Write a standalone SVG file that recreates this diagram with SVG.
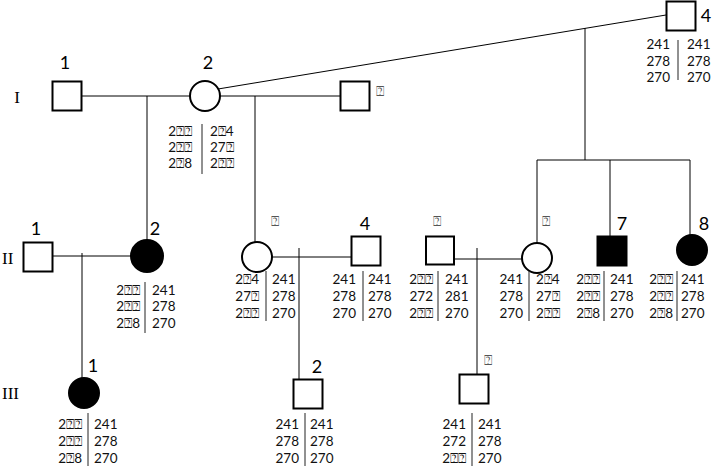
<svg xmlns="http://www.w3.org/2000/svg" width="716" height="468" viewBox="0 0 716 468">
<style>
.nd{fill:#fff;stroke:#000;stroke-width:2}
.af{fill:#000;stroke:#000;stroke-width:2}
.ln{stroke:#000;stroke-width:1;fill:none}
.dv{stroke:#222;stroke-width:1}
.g{font-family:Lato,"Liberation Sans",sans-serif;font-size:13.5px;fill:#111}
.l{text-anchor:end}
.lb{font-family:Lato,"Liberation Sans",sans-serif;font-size:18px;fill:#000}
.rm{font-family:"Liberation Serif",serif;font-size:17px;fill:#000}
.q{font-family:"DejaVu Sans",sans-serif;font-size:14px;fill:#555}
</style>
<rect width="716" height="468" fill="#fff"/>
<g id="generations">
<text class="rm" x="17" y="103" text-anchor="middle">I</text>
<text class="rm" x="2" y="264">II</text>
<text class="rm" x="2" y="399">III</text>
</g>
<g id="connectors">
<line class="ln" x1="82" y1="96" x2="190" y2="96"/>
<line class="ln" x1="220" y1="96" x2="340" y2="96"/>
<line class="ln" x1="218" y1="89" x2="666" y2="15"/>
<line class="ln" x1="147" y1="96" x2="147" y2="240"/>
<line class="ln" x1="255" y1="96" x2="255" y2="242"/>
<line class="ln" x1="585" y1="28" x2="585" y2="160"/>
<line class="ln" x1="537" y1="160" x2="690" y2="160"/>
<line class="ln" x1="537" y1="160" x2="537" y2="243"/>
<line class="ln" x1="610" y1="160" x2="610" y2="236"/>
<line class="ln" x1="690" y1="160" x2="690" y2="235"/>
<line class="ln" x1="52" y1="256" x2="131" y2="256"/>
<line class="ln" x1="82" y1="253" x2="82" y2="378"/>
<line class="ln" x1="272" y1="257" x2="351" y2="257"/>
<line class="ln" x1="299" y1="248" x2="299" y2="379"/>
<line class="ln" x1="454" y1="259" x2="522" y2="259"/>
<line class="ln" x1="477" y1="248" x2="477" y2="374"/>
</g>
<g id="I-1">
<rect class="nd" x="52.5" y="81.5" width="29" height="29"/>
<text class="lb" x="65" y="69" text-anchor="middle">1</text>
</g>
<g id="I-2">
<circle class="nd" cx="205" cy="96" r="15"/>
<text class="lb" x="208" y="69" text-anchor="middle">2</text>
<line class="dv" x1="202" y1="124" x2="202" y2="174"/>
<text class="g l" x="192" y="136">2⍰⍰</text><text class="g l" x="192" y="152">2⍰⍰</text><text class="g l" x="192" y="168">2⍰8</text>
<text class="g" x="210" y="136">2⍰4</text><text class="g" x="210" y="152">27⍰</text><text class="g" x="210" y="168">2⍰⍰</text>
</g>
<g id="I-3">
<rect class="nd" x="340.5" y="81.5" width="29" height="29"/>
<text class="q" x="380" y="96" text-anchor="middle">⍰</text>
</g>
<g id="I-4">
<rect class="nd" x="666.5" y="1.5" width="29" height="29"/>
<text class="lb" x="706" y="22" text-anchor="middle">4</text>
<line class="dv" x1="678" y1="40" x2="678" y2="80"/>
<text class="g l" x="670" y="49">241</text><text class="g l" x="670" y="66">278</text><text class="g l" x="670" y="82">270</text>
<text class="g" x="687" y="49">241</text><text class="g" x="687" y="66">278</text><text class="g" x="687" y="82">270</text>
</g>
<g id="II-1">
<rect class="nd" x="23.5" y="242.5" width="29" height="29"/>
<text class="lb" x="36" y="235" text-anchor="middle">1</text>
</g>
<g id="II-2">
<circle class="af" cx="147" cy="256" r="16"/>
<text class="lb" x="155" y="235" text-anchor="middle">2</text>
<line class="dv" x1="145" y1="282" x2="145" y2="333"/>
<text class="g l" x="140" y="295">2⍰⍰</text><text class="g l" x="140" y="311">2⍰⍰</text><text class="g l" x="140" y="328">2⍰8</text>
<text class="g" x="152" y="295">241</text><text class="g" x="152" y="311">278</text><text class="g" x="152" y="328">270</text>
</g>
<g id="II-3">
<circle class="nd" cx="257" cy="257" r="15"/>
<text class="q" x="275" y="226" text-anchor="middle">⍰</text>
<line class="dv" x1="266" y1="271" x2="266" y2="321"/>
<text class="g l" x="259" y="284">2⍰4</text><text class="g l" x="259" y="301">27⍰</text><text class="g l" x="259" y="318">2⍰⍰</text>
<text class="g" x="272" y="284">241</text><text class="g" x="272" y="301">278</text><text class="g" x="272" y="318">270</text>
</g>
<g id="II-4">
<rect class="nd" x="351.5" y="236.5" width="29" height="29"/>
<text class="lb" x="365" y="230" text-anchor="middle">4</text>
<line class="dv" x1="363" y1="271" x2="363" y2="321"/>
<text class="g l" x="356" y="284">241</text><text class="g l" x="356" y="301">278</text><text class="g l" x="356" y="318">270</text>
<text class="g" x="368" y="284">241</text><text class="g" x="368" y="301">278</text><text class="g" x="368" y="318">270</text>
</g>
<g id="II-5">
<rect class="nd" x="426" y="236.5" width="28" height="28"/>
<text class="q" x="437" y="226" text-anchor="middle">⍰</text>
<line class="dv" x1="438" y1="271" x2="438" y2="321"/>
<text class="g l" x="433" y="284">2⍰⍰</text><text class="g l" x="433" y="301">272</text><text class="g l" x="433" y="318">2⍰⍰</text>
<text class="g" x="445" y="284">241</text><text class="g" x="445" y="301">281</text><text class="g" x="445" y="318">270</text>
</g>
<g id="II-6">
<circle class="nd" cx="537" cy="258" r="15"/>
<text class="q" x="546" y="226" text-anchor="middle">⍰</text>
<line class="dv" x1="529" y1="271" x2="529" y2="321"/>
<text class="g l" x="523" y="284">241</text><text class="g l" x="523" y="301">278</text><text class="g l" x="523" y="318">270</text>
<text class="g" x="536" y="284">2⍰4</text><text class="g" x="536" y="301">27⍰</text><text class="g" x="536" y="318">2⍰⍰</text>
</g>
<g id="II-7">
<rect class="af" x="597.5" y="236.5" width="29" height="29"/>
<text class="lb" x="622" y="230" text-anchor="middle">7</text>
<line class="dv" x1="604" y1="271" x2="604" y2="321"/>
<text class="g l" x="600" y="284">2⍰⍰</text><text class="g l" x="600" y="301">2⍰⍰</text><text class="g l" x="600" y="318">2⍰8</text>
<text class="g" x="610" y="284">241</text><text class="g" x="610" y="301">278</text><text class="g" x="610" y="318">270</text>
</g>
<g id="II-8">
<circle class="af" cx="692" cy="250" r="15"/>
<text class="lb" x="704" y="230" text-anchor="middle">8</text>
<line class="dv" x1="677" y1="271" x2="677" y2="321"/>
<text class="g l" x="673" y="284">2⍰⍰</text><text class="g l" x="673" y="301">2⍰⍰</text><text class="g l" x="673" y="318">2⍰8</text>
<text class="g" x="681" y="284">241</text><text class="g" x="681" y="301">278</text><text class="g" x="681" y="318">270</text>
</g>
<g id="III-1">
<circle class="af" cx="84" cy="393" r="15"/>
<text class="lb" x="93" y="372" text-anchor="middle">1</text>
<line class="dv" x1="88" y1="413" x2="88" y2="466"/>
<text class="g l" x="82" y="429">2⍰⍰</text><text class="g l" x="82" y="446">2⍰⍰</text><text class="g l" x="82" y="463">2⍰8</text>
<text class="g" x="94" y="429">241</text><text class="g" x="94" y="446">278</text><text class="g" x="94" y="463">270</text>
</g>
<g id="III-2">
<rect class="nd" x="293.5" y="379.5" width="29" height="29"/>
<text class="lb" x="317" y="373" text-anchor="middle">2</text>
<line class="dv" x1="305" y1="413" x2="305" y2="466"/>
<text class="g l" x="299" y="429">241</text><text class="g l" x="299" y="446">278</text><text class="g l" x="299" y="463">270</text>
<text class="g" x="310" y="429">241</text><text class="g" x="310" y="446">278</text><text class="g" x="310" y="463">270</text>
</g>
<g id="III-3">
<rect class="nd" x="459.5" y="374.5" width="29" height="29"/>
<text class="q" x="488" y="365" text-anchor="middle">⍰</text>
<line class="dv" x1="472" y1="413" x2="472" y2="466"/>
<text class="g l" x="466" y="429">241</text><text class="g l" x="466" y="446">272</text><text class="g l" x="466" y="463">2⍰⍰</text>
<text class="g" x="478" y="429">241</text><text class="g" x="478" y="446">278</text><text class="g" x="478" y="463">270</text>
</g>
</svg>
